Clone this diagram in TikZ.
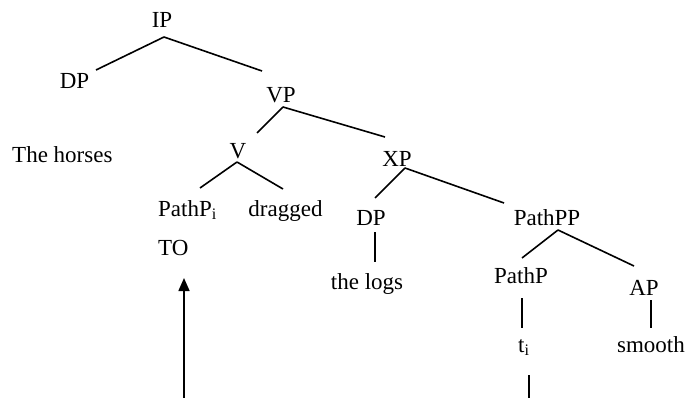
\documentclass[tikz,border=0pt]{standalone}
\usepackage{fontspec}
\setmainfont{Liberation Serif}
\usetikzlibrary{calc,arrows.meta}
\begin{document}
\begin{tikzpicture}[x=1pt,y=-1pt,
  lbl/.style={inner sep=0pt,anchor=base,font=\fontsize{23}{27}\selectfont},
  lblw/.style={inner sep=0pt,anchor=base west,font=\fontsize{23}{27}\selectfont},
  edge/.style={line width=1.6pt,black}]
\useasboundingbox (0,0) rectangle (687,398);
% nodes
\node[lbl] (IP) at (162,28) {IP};
\node[lbl] (DP1) at (74.5,89) {DP};
\node[lbl] (VP) at (281,103) {VP};
\node[lblw] (horses) at (12,163) {The horses};
\node[lbl] (V) at (238,159) {V};
\node[lblw] (PathPi) at (158,216) {PathP\textsubscript{i}};
\node[lbl] (dragged) at (285.5,216) {dragged};
\node[lblw] (TO) at (158,255) {TO};
\node[lbl] (XP) at (397,167) {XP};
\node[lbl] (DP2) at (371,225) {DP};
\node[lbl] (PathPP) at (547,225) {PathPP};
\node[lbl] (logs) at (367,289) {the logs};
\node[lbl] (PathP) at (521,283) {PathP};
\node[lbl] (AP) at (644,295) {AP};
\node[lbl] (smooth) at (651,352) {smooth};
\node[lblw] (t) at (518,352) {t\textsubscript{i}};
\coordinate (arrowfoot) at (184,398);
\coordinate (tfoot) at (529,398);
% connectors
\draw[edge] ($(IP.base)+(2,9)$) -- ($(DP1.base)+(21.5,-19)$);
\draw[edge] ($(IP.base)+(2,9)$) -- ($(VP.base)+(-19,-32)$);
\draw[edge] ($(VP.base)+(2,4)$) -- ($(V.base)+(19,-26)$);
\draw[edge] ($(VP.base)+(2,4)$) -- ($(XP.base)+(-12,-30)$);
\draw[edge] ($(V.base)+(-1,3)$) -- ($(PathPi.base west)+(42,-28)$);
\draw[edge] ($(V.base)+(-1,3)$) -- ($(dragged.base)+(-2.5,-27)$);
\draw[edge] ($(XP.base)+(8,1)$) -- ($(DP2.base)+(4,-27)$);
\draw[edge] ($(XP.base)+(8,1)$) -- ($(PathPP.base)+(-43,-22)$);
\draw[edge] ($(DP2.base)+(4,7)$) -- ($(logs.base)+(8,-27)$);
\draw[edge] ($(PathPP.base)+(11,5)$) -- ($(PathP.base)+(1,-25)$);
\draw[edge] ($(PathPP.base)+(11,5)$) -- ($(AP.base)+(-10,-29)$);
\draw[edge] ($(PathP.base)+(1,15)$) -- ($(t.base west)+(4,-24)$);
\draw[edge] ($(AP.base)+(7,5)$) -- ($(smooth.base)+(0,-24)$);
\draw[edge] ($(t.base west)+(11,23)$) -- (tfoot);
\draw[edge,-{Triangle[length=13pt,width=11pt]}] (arrowfoot) -- ($(TO.base west)+(26,23)$);
\end{tikzpicture}
\end{document}
